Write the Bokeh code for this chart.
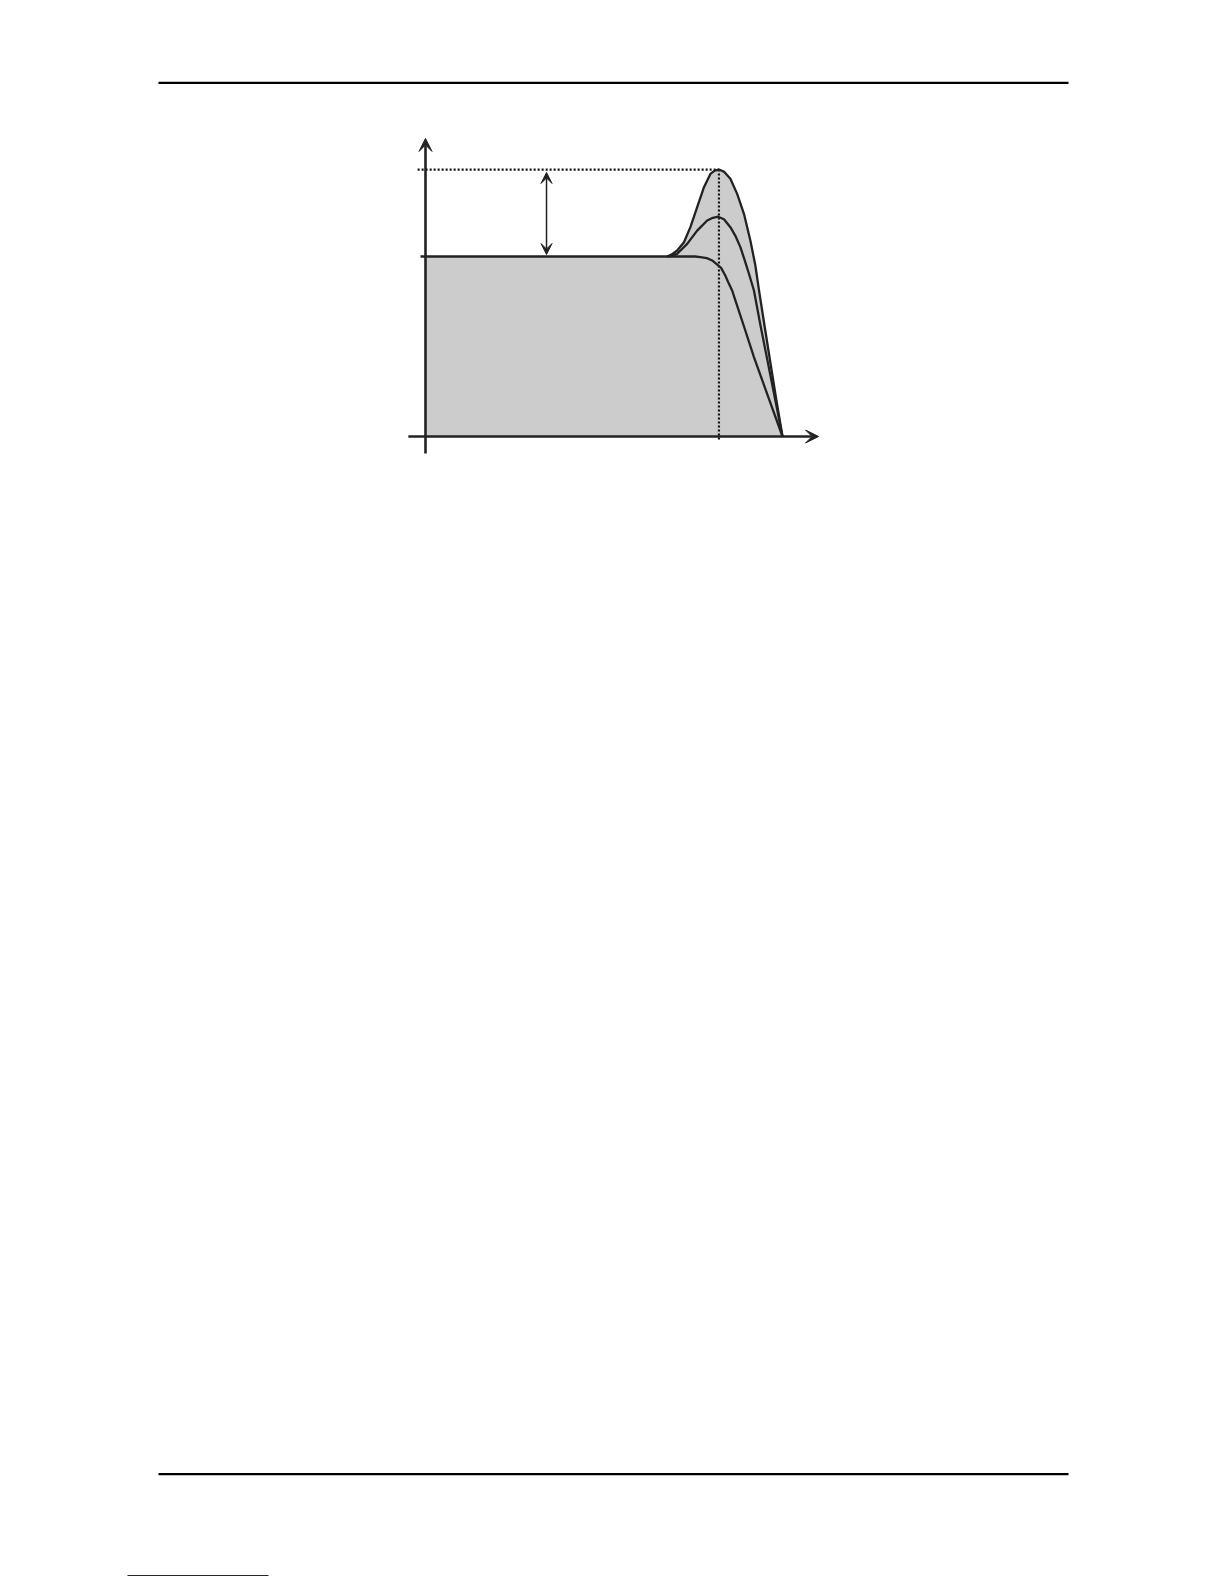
from bokeh.plotting import figure
from bokeh.models import Range1d, Arrow, VeeHead
from bokeh.embed import file_html
from bokeh.resources import INLINE

# ---- chart data (normalised frequency, relative gain) ----
freq_flat = [-0.014, 0.677]
gain_flat = [1.0, 1.0]

# highest resonance
freq_top = [0.677, 0.690, 0.705, 0.724, 0.742, 0.761, 0.780, 0.798, 0.810, 0.822,
            0.837, 0.854, 0.873, 0.892, 0.910, 0.924, 0.934, 0.950, 0.968, 0.983, 1.0]
gain_top = [1.0, 1.012, 1.033, 1.079, 1.163, 1.274, 1.385, 1.459, 1.477, 1.483,
            1.470, 1.432, 1.348, 1.237, 1.089, 0.950, 0.815, 0.611, 0.386, 0.200, 0.0]

# medium resonance
freq_mid = [0.677, 0.690, 0.705, 0.733, 0.761, 0.789, 0.805, 0.820, 0.836, 0.854,
            0.868, 0.882, 0.894, 0.906, 0.920, 0.938, 0.956, 0.978, 1.0]
gain_mid = [1.0, 1.005, 1.015, 1.070, 1.144, 1.200, 1.215, 1.221, 1.207, 1.163,
            1.115, 1.052, 0.980, 0.904, 0.811, 0.620, 0.441, 0.220, 0.0]

# no resonance
freq_low = [0.677, 0.755, 0.770, 0.788, 0.803, 0.828, 0.840, 0.850, 0.859, 0.868, 0.894,
            0.920, 0.960, 1.0]
gain_low = [1.0, 1.0, 0.997, 0.991, 0.978, 0.937, 0.893, 0.848, 0.811, 0.756, 0.600,
            0.441, 0.220, 0.0]

cutoff_freq = 0.822
peak_gain = 1.483
axis_x_extent = [-0.048, 1.101]
axis_y_extent = [-0.094, 1.656]
arrow_freq = 0.339

# ---- page layout ----
W, H = 1224, 1584
p = figure(width=W, height=H, output_backend="svg", toolbar_location=None,
           x_range=Range1d(0, W), y_range=Range1d(H, 0),
           x_axis_location=None, y_axis_location=None, min_border=0,
           background_fill_color="white", border_fill_color="white")
p.grid.visible = False
p.outline_line_color = None

# chart coordinate system placed on page (origin px, px per unit)
ox, oy, sx, sy = 425, 436, 357, 180
p.extra_x_ranges = {"f": Range1d(-ox / sx, (W - ox) / sx)}
p.extra_y_ranges = {"g": Range1d((oy - H) / sy, oy / sy)}
R = dict(x_range_name="f", y_range_name="g")

# page rules
p.segment(x0=[158, 158], y0=[82.3, 1473.7], x1=[1068, 1068], y1=[82.3, 1473.7],
          line_color="black", line_width=2.2)
p.segment(x0=[127], y0=[1575], x1=[268], y1=[1575], line_color="#1c1c84", line_width=1.2)

# grey filled area under the top curve
fill_x = [0.0] + freq_top
fill_y = [1.0] + gain_top
p.varea(x=fill_x, y1=[0.0] * len(fill_x), y2=fill_y, fill_color="#cccccc", **R)

ink = "#222222"
# dotted guides
p.line(x=[-0.022, cutoff_freq], y=[peak_gain, peak_gain], line_color="#111111",
       line_width=2.2, line_dash="2 2", **R)
p.line(x=[cutoff_freq, cutoff_freq], y=[peak_gain, -0.028], line_color="#111111",
       line_width=2.2, line_dash="2 2", **R)

# curves
p.line(x=freq_flat, y=gain_flat, line_color=ink, line_width=2.3, **R)
p.line(x=freq_low, y=gain_low, line_color=ink, line_width=2.3, line_join="round", **R)
p.line(x=freq_mid, y=gain_mid, line_color=ink, line_width=2.3, line_join="round", **R)
p.line(x=freq_top, y=gain_top, line_color=ink, line_width=2.3, line_join="round", **R)

# axes with arrows
p.add_layout(Arrow(end=VeeHead(size=13, fill_color=ink, line_color=ink, line_width=1),
                   x_start=0.0, y_start=axis_y_extent[0], x_end=0.0, y_end=axis_y_extent[1],
                   line_color=ink, line_width=2.6, **R))
p.add_layout(Arrow(end=VeeHead(size=13, fill_color=ink, line_color=ink, line_width=1),
                   x_start=axis_x_extent[0], y_start=0.0, x_end=axis_x_extent[1], y_end=0.0,
                   line_color=ink, line_width=2.6, **R))

# resonance double arrow
p.add_layout(Arrow(start=VeeHead(size=11, fill_color=ink, line_color=ink, line_width=1),
                   end=VeeHead(size=11, fill_color=ink, line_color=ink, line_width=1),
                   x_start=arrow_freq, y_start=1.011, x_end=arrow_freq, y_end=1.467,
                   line_color=ink, line_width=1.5, **R))

open("out.html", "w").write(file_html(p, INLINE))
